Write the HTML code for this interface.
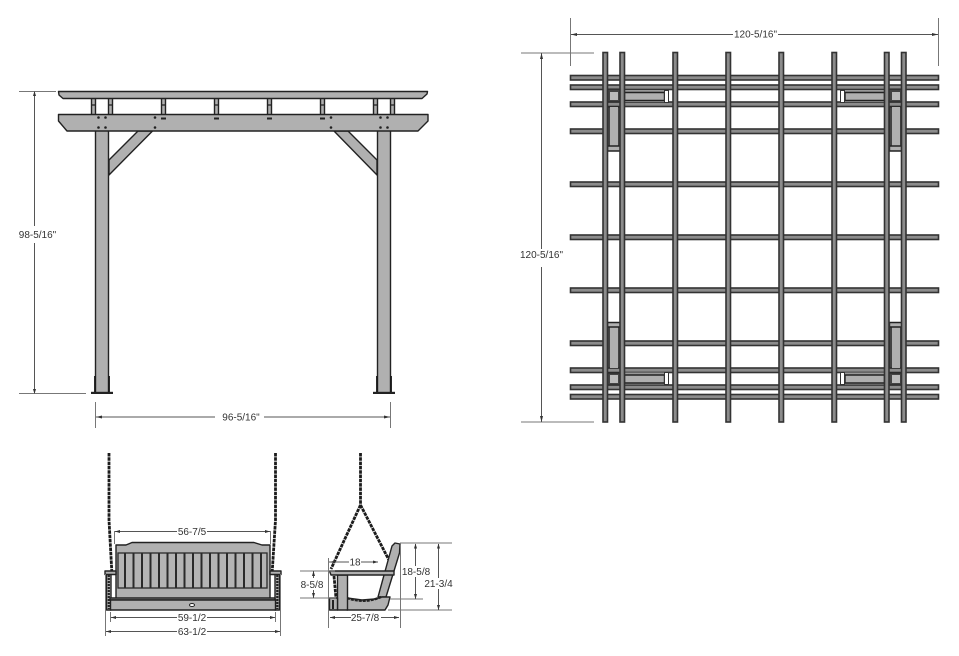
<!DOCTYPE html>
<html><head><meta charset="utf-8"><style>
html,body{margin:0;padding:0;background:#fff;width:959px;height:656px;overflow:hidden}
svg{display:block}
text{font-family:"Liberation Sans",sans-serif;font-size:10px;fill:#333;text-anchor:middle}
.p{fill:#b0b0b0;stroke:#222;stroke-width:1.4;stroke-linejoin:round}
.d{stroke:#555;stroke-width:1;fill:none}
.e{stroke:#777;stroke-width:1;fill:none}
.a{fill:#333;stroke:none}
.b{fill:#8c8c8c;stroke:#333;stroke-width:1.6}
.c{fill:none;stroke:#1c1c1c;stroke-width:2.8;stroke-dasharray:3.5 .8}
.n{fill:none;stroke:#222;stroke-width:1.2}
.s{stroke:#2a2a2a;stroke-width:2}
.f{fill:#444;stroke:#222;stroke-width:1}
</style></head><body>
<svg width="959" height="656" viewBox="0 0 959 656" xmlns="http://www.w3.org/2000/svg">
<rect width="959" height="656" fill="#fff"/>

<!-- Elevation -->
<g>
<rect class="p" x="91.500" y="98" width="4" height="17"/><rect class="p" x="108.500" y="98" width="4" height="17"/>
<rect class="p" x="161.500" y="98" width="4" height="20"/><rect class="p" x="214.500" y="98" width="4" height="20"/>
<rect class="p" x="267.500" y="98" width="4" height="20"/><rect class="p" x="320.500" y="98" width="4" height="20"/>
<rect class="p" x="373.500" y="98" width="4" height="17"/><rect class="p" x="390.500" y="98" width="4" height="17"/>
<path class="n" d="M92 105H95M109 105H112M162 105H165M215 105H218M268 105H271M321 105H324M374 105H377M391 105H394"/>
<polygon class="p" points="58.500,91.500 427.500,91.500 427,94 422,98.500 63,98.500 59,95"/>
<polygon class="p" points="109,160 138,131 152.500,131 109,175"/>
<polygon class="p" points="377,160 348,131 334,131 377,175"/>
<rect class="p" x="95.500" y="130" width="13" height="263"/>
<rect class="p" x="377.500" y="130" width="13" height="263"/>
<polygon class="p" points="58.500,114.500 428,114.500 428,121 418,131 67,131 58.500,121"/>
<path d="M161 117.500H166V119.500H161ZM214 117.500H219V119.500H214ZM267 117.500H272V119.500H267ZM320 117.500H325V119.500H320Z" fill="#222"/>
<path d="M94.800 376V392M109.200 376V392M376.800 376V392M391.200 376V392" stroke="#111" stroke-width="1.400" fill="none"/>
<rect x="91" y="391.800" width="22" height="2.200" fill="#222"/><rect x="373" y="391.800" width="22" height="2.200" fill="#222"/>
<g fill="#222"><circle cx="98.500" cy="117.500" r="1.300"/><circle cx="105.500" cy="117.500" r="1.300"/><circle cx="98.500" cy="127.500" r="1.300"/><circle cx="105.500" cy="127.500" r="1.300"/><circle cx="155" cy="117.500" r="1.300"/><circle cx="155" cy="127.500" r="1.300"/><circle cx="331" cy="117.500" r="1.300"/><circle cx="331" cy="127.500" r="1.300"/><circle cx="380.500" cy="117.500" r="1.300"/><circle cx="387.500" cy="117.500" r="1.300"/><circle cx="380.500" cy="127.500" r="1.300"/><circle cx="387.500" cy="127.500" r="1.300"/></g>
<path class="e" d="M19 91.500H56M19 393.500H86"/>
<path class="d" d="M34.500 92V226M34.500 243V393"/>
<polygon class="a" points="34.500,91 33,96 36,96"/><polygon class="a" points="34.500,394 33,389 36,389"/>
<text x="37.500" y="238">98-5/16"</text>
<path class="e" d="M95.500 402V428M390.500 402V428"/>
<path class="d" d="M96 417H215M264 417H390" stroke-width="1.300"/>
<polygon class="a" points="96,417 102,415.500 102,418.500"/><polygon class="a" points="390,417 384,415.500 384,418.500"/>
<text x="241" y="420.500">96-5/16"</text>
</g>

<!-- Plan -->
<g>
<path class="e" d="M570.500 18V66M938.500 18V66M521 53H594M521 422H594"/>
<path class="d" d="M571 34.500H733M778 34.500H938M541.500 53V249M541.500 267V422"/>
<polygon class="a" points="571,34.500 577,33 577,36"/><polygon class="a" points="938,34.500 932,33 932,36"/>
<polygon class="a" points="541.500,53 540,59 543,59"/><polygon class="a" points="541.500,422 540,416 543,416"/>
<text x="755.500" y="37.500">120-5/16"</text>
<text x="541.500" y="258">120-5/16"</text>

<rect class="b" x="570.500" y="75.500" width="368" height="4.500"/>
<rect class="b" x="570.500" y="85" width="368" height="4.500"/>
<rect class="b" x="570.500" y="102" width="368" height="4.500"/>
<rect class="b" x="570.500" y="129" width="368" height="4.500"/>
<rect class="b" x="570.500" y="182" width="368" height="4.500"/>
<rect class="b" x="570.500" y="235" width="368" height="4.500"/>
<rect class="b" x="570.500" y="288" width="368" height="4.500"/>
<rect class="b" x="570.500" y="341" width="368" height="4.500"/>
<rect class="b" x="570.500" y="368" width="368" height="4.500"/>
<rect class="b" x="570.500" y="385" width="368" height="4.500"/>
<rect class="b" x="570.500" y="394.500" width="368" height="4.500"/>

<!-- top left corner -->
<rect x="624" y="90" width="44" height="12" fill="#999"/>
<rect class="p" x="624.500" y="92.500" width="40" height="8"/><rect x="664.500" y="90.500" width="4" height="12" fill="#fff" stroke="#333"/>
<rect class="f" x="607" y="89" width="14" height="13"/><rect x="610" y="92" width="8" height="8" fill="#bbb"/>
<rect class="f" x="607.500" y="107" width="13" height="39"/><rect x="610" y="107" width="8" height="39" fill="#b0b0b0"/>
<rect class="p" x="607.500" y="146" width="13" height="5"/>
<!-- top right corner -->
<rect x="841" y="90" width="44" height="12" fill="#999"/>
<rect class="p" x="845" y="92.500" width="39.500" height="8"/><rect x="840.500" y="90.500" width="4" height="12" fill="#fff" stroke="#333"/>
<rect class="f" x="889" y="89" width="14" height="13"/><rect x="892" y="92" width="8" height="8" fill="#bbb"/>
<rect class="f" x="889.500" y="107" width="13" height="39"/><rect x="892" y="107" width="8" height="39" fill="#b0b0b0"/>
<rect class="p" x="889.500" y="146" width="13" height="5"/>
<!-- bottom left corner -->
<rect x="624" y="372.500" width="44" height="12" fill="#999"/>
<rect class="p" x="624.500" y="375" width="40" height="8"/><rect x="664.500" y="372.500" width="4" height="12" fill="#fff" stroke="#333"/>
<rect class="f" x="607" y="373" width="14" height="12"/><rect x="610" y="375" width="8" height="8" fill="#bbb"/>
<rect class="f" x="607.500" y="327" width="13" height="41"/><rect x="610" y="327" width="8" height="41" fill="#b0b0b0"/>
<rect class="p" x="607.500" y="322.500" width="13" height="4.500"/>
<!-- bottom right corner -->
<rect x="841" y="372.500" width="44" height="12" fill="#999"/>
<rect class="p" x="845" y="375" width="39.500" height="8"/><rect x="840.500" y="372.500" width="4" height="12" fill="#fff" stroke="#333"/>
<rect class="f" x="889" y="373" width="14" height="12"/><rect x="892" y="375" width="8" height="8" fill="#bbb"/>
<rect class="f" x="889.500" y="327" width="13" height="41"/><rect x="892" y="327" width="8" height="41" fill="#b0b0b0"/>
<rect class="p" x="889.500" y="322.500" width="13" height="4.500"/>

<rect class="b" x="603" y="52.500" width="4.500" height="369.500"/>
<rect class="b" x="620" y="52.500" width="4.500" height="369.500"/>
<rect class="b" x="673" y="52.500" width="4.500" height="369.500"/>
<rect class="b" x="726" y="52.500" width="4.500" height="369.500"/>
<rect class="b" x="779" y="52.500" width="4.500" height="369.500"/>
<rect class="b" x="832" y="52.500" width="4.500" height="369.500"/>
<rect class="b" x="884.500" y="52.500" width="4.500" height="369.500"/>
<rect class="b" x="901.500" y="52.500" width="4.500" height="369.500"/>
</g>

<!-- Swing front -->
<g>
<path class="c" d="M109 453V520L112 575"/>
<path class="c" d="M275.500 453V520L272 575"/>
<polygon class="p" points="116,545 126,545 132,542.500 254,542.500 262,545 270,545 270,600 116,600"/>
<rect x="118" y="553" width="149" height="35" fill="#b4b4b4" stroke="#2a2a2a" stroke-width="1.300"/>
<path class="s" d="M125 553V588M133.500 553V588M142 553V588M150.500 553V588M159 553V588M167.500 553V588M176 553V588M184.500 553V588M193 553V588M201.500 553V588M210 553V588M218.500 553V588M227 553V588M235.500 553V588M244 553V588M252.500 553V588M261 553V588"/>
<rect class="p" x="106.500" y="574" width="4.500" height="36"/><rect class="p" x="275" y="574" width="4.500" height="36"/>
<path d="M108.800 575V609M277.300 575V609" stroke="#222" stroke-width="2.200" stroke-dasharray="2 1" fill="none"/>
<rect class="p" x="105" y="571" width="11" height="3.500"/><rect class="p" x="270" y="571" width="11" height="3.500"/>
<rect class="p" x="110" y="598" width="165" height="2"/>
<rect class="p" x="110.500" y="600" width="165" height="10"/>
<ellipse cx="192" cy="605" rx="2.500" ry="1.500" fill="#fff" stroke="#222"/>
<path class="e" d="M114.500 531V544M270.500 531V544M110.500 612V622M275.500 612V622M105.500 574V636M280.500 574V636"/>
<path class="d" d="M115 531.500H177M207 531.500H270M111 617.500H177M207 617.500H275M106 631.500H177M207 631.500H280" stroke-width="1.200"/>
<polygon class="a" points="115,531.500 120,530 120,533"/><polygon class="a" points="270,531.500 265,530 265,533"/>
<polygon class="a" points="111,617.500 116,616 116,619"/><polygon class="a" points="275,617.500 270,616 270,619"/>
<polygon class="a" points="106,631.500 111,630 111,633"/><polygon class="a" points="280,631.500 275,630 275,633"/>
<text x="192" y="535">56-7/5</text>
<text x="192" y="621">59-1/2</text>
<text x="192" y="635">63-1/2</text>
</g>

<!-- Swing side -->
<g>
<path class="c" d="M360.500 453V507"/>
<path class="c" d="M360.500 505L331 569"/>
<path class="c" d="M360.500 505L392 566"/>
<path class="c" d="M334 576L336 598"/>
<polygon class="p" points="392,546 395,543 400,544 399.500,553 386,597 378,597"/>
<polygon class="p" points="347,598 362,600 375,599 382,597 390,597 388,605 385,610 347,610"/>
<path d="M347 598Q365 604 381 597" fill="none" stroke="#222" stroke-width="2.400" stroke-dasharray="3 1"/>
<rect class="p" x="337.500" y="575" width="10" height="35"/>
<rect class="p" x="329.500" y="598" width="8" height="12"/>
<path d="M333 600V609" stroke="#222" stroke-width="2"/>
<polygon class="p" points="329.500,571 394,571 394,575 331,575"/>
<path class="e" d="M328.500 558V628M400.500 545V628"/>
<path class="e" d="M400 543H452M390 599H423M388 610H452M300 571H335M300 598H336"/>
<path class="d" d="M329 562H349M361 562H378M330 617.500H351M381 617.500H399M415.500 544V566M415.500 577V599M438.500 544V578M438.500 589V610M313.500 571V578M313.500 590V598" stroke-width="1.100"/>
<polygon class="a" points="330,562 335,560.500 335,563.500"/><polygon class="a" points="378,562 373,560.500 373,563.500"/>
<polygon class="a" points="330,617.500 335,616 335,619"/><polygon class="a" points="399,617.500 394,616 394,619"/>
<polygon class="a" points="415.500,543.500 414,548.500 417,548.500"/><polygon class="a" points="415.500,599 414,594 417,594"/>
<polygon class="a" points="438.500,543.500 437,548.500 440,548.500"/><polygon class="a" points="438.500,610 437,605 440,605"/>
<polygon class="a" points="313.500,571 312,576 315,576"/><polygon class="a" points="313.500,598 312,593 315,593"/>
<text x="355" y="565.500">18</text>
<text x="365" y="621">25-7/8</text>
<text x="416" y="575">18-5/8</text>
<text x="438.500" y="587">21-3/4</text>
<text x="312" y="588">8-5/8</text>
</g>
</svg>
</body></html>
